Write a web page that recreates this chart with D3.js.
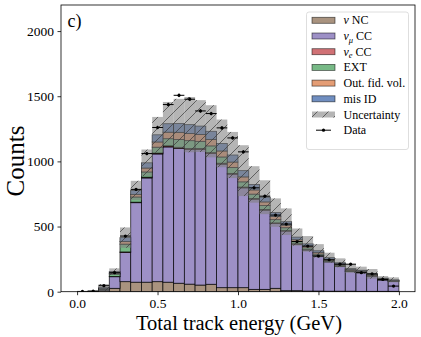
<!DOCTYPE html>
<html>
<head>
<meta charset="utf-8">
<script src="https://cdn.jsdelivr.net/npm/d3@7"></script>
<style>
  body { margin: 0; background: #fff; }
  svg { display: block; }
  text { font-family: "Liberation Serif", "Times New Roman", serif; fill: #000; }
</style>
</head>
<body>
<div id="chart"></div>
<script>
const width = 421;
const height = 337;

// 30 bins of total track energy between 0 and 2 GeV
const binEdges = d3.range(31).map(i => i * 2 / 30);

// stacked MC (counts per bin)
const nuNC   = [0, 1, 10, 26, 77, 73, 73, 77, 73, 65, 58, 51, 57, 31, 31, 31, 18, 18, 26, 8, 8, 5, 5, 4, 4, 4, 3, 3, 3, 3];
const numuCC = [0, 1, 8, 89, 225, 610, 800, 980, 1038, 1035, 1033, 1040, 1003, 948, 871, 766, 692, 608, 498, 457, 357, 315, 270, 225, 190, 151, 143, 117, 87, 77];
const nueCC  = [0, 0, 0, 1, 3, 4, 6, 7, 8, 8, 8, 8, 7, 7, 6, 6, 5, 5, 4, 4, 3, 3, 2, 2, 2, 1, 1, 1, 1, 1];
const ext    = [0, 1, 3, 20, 60, 40, 40, 45, 55, 60, 60, 55, 52, 48, 45, 40, 34, 30, 25, 22, 16, 14, 12, 9, 8, 6, 5, 5, 4, 3];
const oofv   = [0, 0, 2, 6, 20, 20, 30, 40, 50, 55, 55, 52, 50, 46, 42, 38, 32, 28, 24, 20, 15, 13, 11, 9, 8, 7, 6, 5, 4, 3];
const misID  = [0, 1, 8, 12, 30, 30, 40, 55, 65, 68, 68, 65, 62, 58, 54, 48, 42, 36, 30, 26, 20, 17, 14, 12, 10, 8, 7, 6, 5, 4];
const mcErr  = [1, 4, 28, 25, 78, 74, 102, 137, 167, 189, 212, 199, 200, 183, 177, 195, 140, 130, 109, 102, 66, 60, 51, 38, 34, 33, 27, 37, 16, 19];

// data points
const dataCounts = [2, 4, 46, 146, 427, 785, 1060, 1260, 1436, 1507, 1477, 1387, 1367, 1257, 1180, 1073, 797, 733, 588, 519, 385, 350, 273, 245, 211, 211, 146, 137, 94, 43];
const dataErr    = [1, 1, 3, 5, 8, 10, 12, 13, 14, 14, 14, 13, 13, 13, 12, 12, 10, 10, 9, 8, 7, 7, 6, 6, 5, 5, 4, 4, 3, 3];

const xTicks = [0, 0.5, 1.0, 1.5, 2.0];
const yTicks = [0, 500, 1000, 1500, 2000];

const categories = [
  { key: "nc",    values: nuNC,   color: "#a9937f" },
  { key: "numu",  values: numuCC, color: "#9d90c6" },
  { key: "nue",   values: nueCC,  color: "#d07175" },
  { key: "ext",   values: ext,    color: "#77b986" },
  { key: "oofv",  values: oofv,   color: "#e49d75" },
  { key: "misid", values: misID,  color: "#708ec0" }
];

const plot = { left: 61, right: 415, top: 5, bottom: 291.7 };

const x = d3.scaleLinear().domain([-0.1, 2.1]).range([plot.left, plot.right]);
const y = d3.scaleLinear().domain([0, 2200]).range([plot.bottom, plot.top]);

const svg = d3.select("#chart")
  .append("svg")
  .attr("width", width)
  .attr("height", height);

const defs = svg.append("defs");
defs.append("clipPath").attr("id", "clip")
  .append("rect")
  .attr("x", plot.left).attr("y", plot.top)
  .attr("width", plot.right - plot.left).attr("height", plot.bottom - plot.top);

const hatch = defs.append("pattern")
  .attr("id", "hatch")
  .attr("patternUnits", "userSpaceOnUse")
  .attr("width", 11).attr("height", 11);
hatch.append("path")
  .attr("d", "M-1,1 l2,-2 M0,11 l11,-11 M10,12 l2,-2")
  .attr("stroke", "#3a3a3a")
  .attr("stroke-width", 0.7);

// build the table for d3.stack
const table = binEdges.slice(0, -1).map((lo, i) => {
  const row = { lo: lo, hi: binEdges[i + 1] };
  categories.forEach(c => { row[c.key] = c.values[i]; });
  return row;
});

const stack = d3.stack().keys(categories.map(c => c.key));
const layers = stack(table);

const g = svg.append("g").attr("clip-path", "url(#clip)");

layers.forEach((layer, li) => {
  g.append("g")
    .selectAll("rect")
    .data(layer)
    .enter()
    .append("rect")
    .attr("x", d => x(d.data.lo))
    .attr("width", d => x(d.data.hi) - x(d.data.lo))
    .attr("y", d => y(d[1]))
    .attr("height", d => Math.max(0, y(d[0]) - y(d[1])))
    .attr("fill", categories[li].color)
    .attr("stroke", "#000")
    .attr("stroke-opacity", 0.85)
    .attr("stroke-width", 0.8);
});

// uncertainty band around the MC total
const totals = table.map(row => d3.sum(categories, c => row[c.key]));
const band = table.map((row, i) => ({ lo: row.lo, hi: row.hi, top: totals[i] + mcErr[i], bot: Math.max(0, totals[i] - mcErr[i]) }));

g.append("g")
  .selectAll("rect")
  .data(band)
  .enter()
  .append("rect")
  .attr("x", d => x(d.lo))
  .attr("width", d => x(d.hi) - x(d.lo))
  .attr("y", d => y(d.top))
  .attr("height", d => y(d.bot) - y(d.top))
  .attr("fill", "#808080")
  .attr("fill-opacity", 0.58);

g.append("g")
  .selectAll("rect")
  .data(band)
  .enter()
  .append("rect")
  .attr("x", d => x(d.lo))
  .attr("width", d => x(d.hi) - x(d.lo))
  .attr("y", d => y(d.top))
  .attr("height", d => y(d.bot) - y(d.top))
  .attr("fill", "url(#hatch)");

// data points with error bars
const pts = g.append("g");
table.forEach((row, i) => {
  const cx = x((row.lo + row.hi) / 2);
  const cy = y(dataCounts[i]);
  pts.append("line")
    .attr("x1", x(row.lo)).attr("x2", x(row.hi))
    .attr("y1", cy).attr("y2", cy)
    .attr("stroke", "#000").attr("stroke-width", 1);
  pts.append("line")
    .attr("x1", cx).attr("x2", cx)
    .attr("y1", y(dataCounts[i] - dataErr[i])).attr("y2", y(dataCounts[i] + dataErr[i]))
    .attr("stroke", "#000").attr("stroke-width", 1);
  pts.append("circle")
    .attr("cx", cx).attr("cy", cy).attr("r", 1.6)
    .attr("fill", "#000");
});

// frame and axes
svg.append("rect")
  .attr("x", plot.left).attr("y", plot.top)
  .attr("width", plot.right - plot.left).attr("height", plot.bottom - plot.top)
  .attr("fill", "none")
  .attr("stroke", "#000")
  .attr("stroke-width", 0.8);

const xAxis = svg.append("g")
  .attr("transform", `translate(0,${plot.bottom})`)
  .call(d3.axisBottom(x).tickValues(xTicks).tickFormat(d3.format(".1f")).tickSize(3.5).tickPadding(3.5));
const yAxis = svg.append("g")
  .attr("transform", `translate(${plot.left},0)`)
  .call(d3.axisLeft(y).tickValues(yTicks).tickSize(3.5).tickPadding(3.5).tickFormat(d3.format("d")));

[xAxis, yAxis].forEach(a => {
  a.select(".domain").remove();
  a.selectAll("line").attr("stroke", "#000").attr("stroke-width", 0.8);
  a.selectAll("text").style("font-family", '"Liberation Serif", "Times New Roman", serif').style("font-size", "13.5px");
});

svg.append("text")
  .attr("x", (plot.left + plot.right) / 2 + 1)
  .attr("y", 330)
  .attr("text-anchor", "middle")
  .style("font-size", "20.5px")
  .text("Total track energy (GeV)");

svg.append("text")
  .attr("transform", "translate(24,161) rotate(-90)")
  .attr("text-anchor", "middle")
  .style("font-size", "25px")
  .text("Counts");

svg.append("text")
  .attr("x", 67.5)
  .attr("y", 26.5)
  .style("font-size", "18px")
  .text("c)");

// legend
const legend = svg.append("g");
legend.append("rect")
  .attr("x", 306.5).attr("y", 12)
  .attr("width", 102).attr("height", 137.5)
  .attr("rx", 2.5)
  .attr("fill", "#fff").attr("fill-opacity", 0.8)
  .attr("stroke", "#d6d6d6").attr("stroke-width", 0.8);

const legendItems = [
  { type: "box", color: categories[0].color, label: [["ν", "it"], [" NC", ""]] },
  { type: "box", color: categories[1].color, label: [["ν", "it"], ["μ", "sub"], [" CC", ""]] },
  { type: "box", color: categories[2].color, label: [["ν", "it"], ["e", "sub"], [" CC", ""]] },
  { type: "box", color: categories[3].color, label: [["EXT", ""]] },
  { type: "box", color: categories[4].color, label: [["Out. fid. vol.", ""]] },
  { type: "box", color: categories[5].color, label: [["mis ID", ""]] },
  { type: "hatch", label: [["Uncertainty", ""]] },
  { type: "data", label: [["Data", ""]] }
];

legendItems.forEach((item, i) => {
  const cy = 20.3 + i * 15.7;
  const row = legend.append("g");
  if (item.type === "box") {
    row.append("rect")
      .attr("x", 312).attr("y", cy - 3)
      .attr("width", 23).attr("height", 6)
      .attr("fill", item.color)
      .attr("stroke", "#000").attr("stroke-opacity", 0.6).attr("stroke-width", 0.8);
  } else if (item.type === "hatch") {
    row.append("rect")
      .attr("x", 312).attr("y", cy - 3)
      .attr("width", 23).attr("height", 6)
      .attr("fill", "#808080").attr("fill-opacity", 0.58);
    row.append("rect")
      .attr("x", 312).attr("y", cy - 3)
      .attr("width", 23).attr("height", 6)
      .attr("fill", "url(#hatch)");
  } else {
    row.append("line")
      .attr("x1", 316).attr("x2", 331)
      .attr("y1", cy).attr("y2", cy)
      .attr("stroke", "#000").attr("stroke-width", 1);
    row.append("circle").attr("cx", 323.5).attr("cy", cy).attr("r", 1.6).attr("fill", "#000");
  }
  const t = row.append("text")
    .attr("x", 343.5).attr("y", cy + 4)
    .style("font-size", "12px");
  item.label.forEach(([s, kind]) => {
    const span = t.append("tspan").text(s);
    if (kind === "it") span.style("font-style", "italic");
    if (kind === "sub") span.style("font-size", "8.5px").style("font-style", "italic").attr("dy", 2.5);
    if (kind === "" && item.label.length === 3 && s.startsWith(" ")) span.attr("dy", -2.5);
  });
});
</script>
</body>
</html>
